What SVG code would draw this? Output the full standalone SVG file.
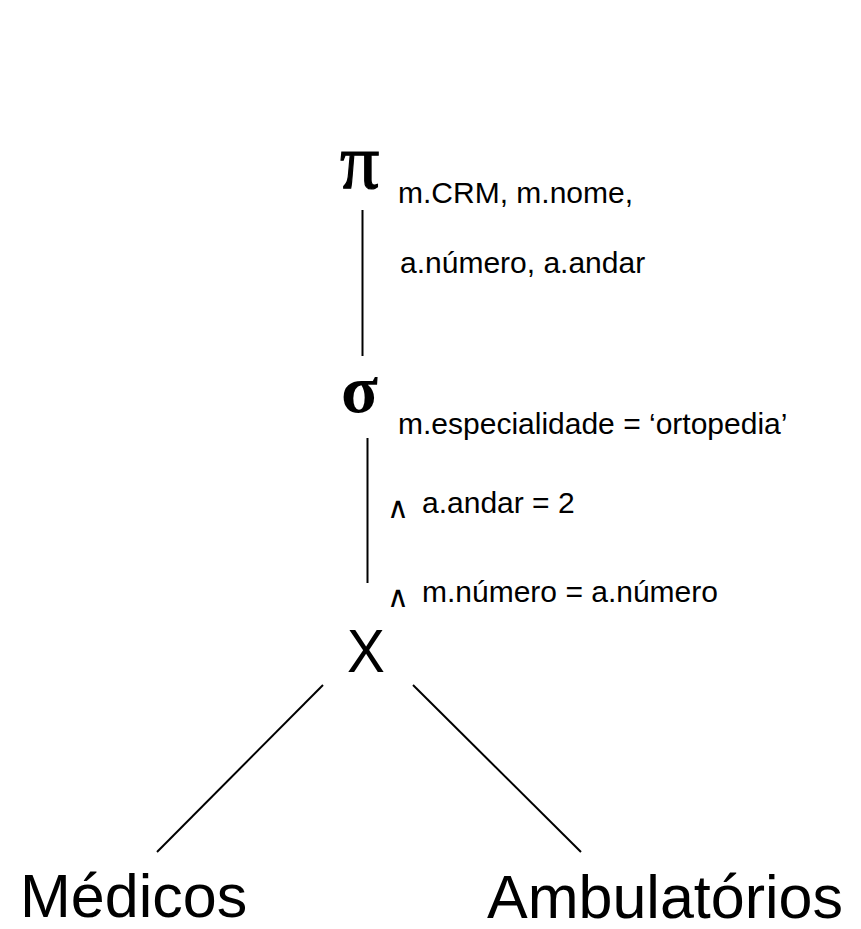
<svg xmlns="http://www.w3.org/2000/svg" width="861" height="929" viewBox="0 0 861 929">
  <style>
    .op { font-family: "Liberation Serif", "Times New Roman", serif; fill: #000; }
    .lbl { font-family: "Liberation Sans", Arial, sans-serif; font-size: 30px; fill: #000; }
    .and { font-family: "DejaVu Sans", sans-serif; font-size: 30px; font-weight: 200; fill: #000; }
    .rel { font-family: "Liberation Sans", Arial, sans-serif; font-size: 61px; fill: #000; }
    .edge { stroke: #000; stroke-width: 2; fill: none; }
  </style>
  <rect width="861" height="929" fill="#fff"/>

  <!-- tree edges -->
  <g id="connectors">
    <line class="edge" x1="362.5" y1="210" x2="362.5" y2="356"/>
    <line class="edge" x1="367.5" y1="438" x2="367.5" y2="583"/>
    <line class="edge" x1="323" y1="685" x2="157" y2="852"/>
    <line class="edge" x1="413" y1="685" x2="581" y2="852"/>
  </g>

  <!-- projection -->
  <g id="projection">
    <text class="op" x="340" y="188" font-size="78" stroke="#000" stroke-width="1.2">π</text>
    <text class="lbl" x="398" y="203">m.CRM, m.nome,</text>
    <text class="lbl" x="400" y="273">a.número, a.andar</text>
  </g>

  <!-- selection -->
  <g id="selection">
    <text class="op" x="341" y="412" font-size="68" font-weight="bold">σ</text>
    <text class="lbl" x="398" y="434" font-size="30.5">m.especialidade = ‘ortopedia’</text>
    <text class="and" x="387" y="518">∧</text>
    <text class="lbl" x="422" y="513">a.andar = 2</text>
    <text class="and" x="387" y="607">∧</text>
    <text class="lbl" x="422" y="602">m.número = a.número</text>
  </g>

  <!-- cartesian product -->
  <g id="product">
    <text class="rel" x="347" y="672" font-size="75" transform="translate(347 0) scale(0.93 1) translate(-347 0)">X</text>
  </g>

  <g id="medicos">
    <text class="rel" x="20" y="917">Médicos</text>
  </g>

  <g id="ambulatorios">
    <text class="rel" x="487" y="918" font-size="62.5">Ambulatórios</text>
  </g>
</svg>
